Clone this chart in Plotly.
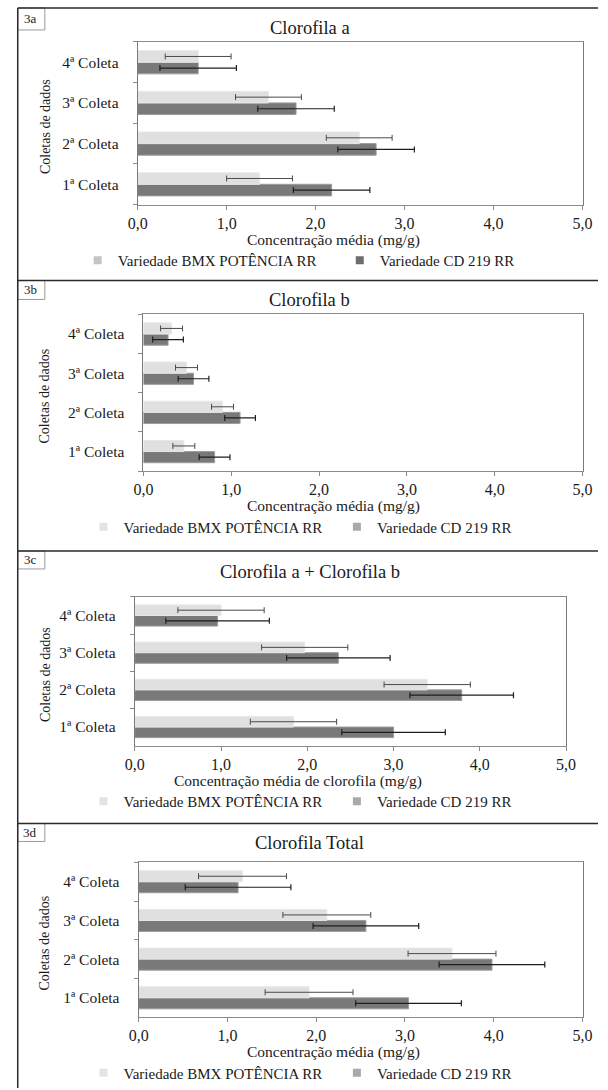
import plotly.graph_objects as go

# ---------------- data ----------------
categories = ["1ª Coleta", "2ª Coleta", "3ª Coleta", "4ª Coleta"]
series_names = ["Variedade BMX POTÊNCIA RR", "Variedade CD 219 RR"]
x_ticks = [0, 1, 2, 3, 4, 5]

# 3a - Clorofila a
bmx_a = [1.37, 2.49, 1.47, 0.68]
cd_a = [2.18, 2.68, 1.78, 0.68]
bmx_a_err = [0.37, 0.37, 0.37, 0.37]
cd_a_err = [0.43, 0.43, 0.43, 0.43]

# 3b - Clorofila b
bmx_b = [0.46, 0.90, 0.49, 0.32]
cd_b = [0.81, 1.10, 0.57, 0.28]
bmx_b_err = [0.125, 0.125, 0.125, 0.125]
cd_b_err = [0.175, 0.175, 0.175, 0.175]

# 3c - Clorofila a + Clorofila b
bmx_ab = [1.84, 3.39, 1.97, 1.00]
cd_ab = [3.00, 3.79, 2.36, 0.96]
bmx_ab_err = [0.50, 0.50, 0.50, 0.50]
cd_ab_err = [0.60, 0.60, 0.60, 0.60]

# 3d - Clorofila Total
bmx_t = [1.92, 3.53, 2.12, 1.17]
cd_t = [3.04, 3.98, 2.56, 1.12]
bmx_t_err = [0.495, 0.495, 0.495, 0.495]
cd_t_err = [0.595, 0.595, 0.595, 0.595]

panel_labels = ["3a", "3b", "3c", "3d"]
panel_titles = ["Clorofila a", "Clorofila b", "Clorofila a + Clorofila b", "Clorofila Total"]
x_titles = ["Concentração média (mg/g)", "Concentração média (mg/g)",
            "Concentração média de clorofila (mg/g)", "Concentração média (mg/g)"]
y_title = "Coletas de dados"

# ---------------- layout helpers ----------------
W, H = 608, 1090
FONT = "Liberation Serif, Times New Roman, serif"


def px(x):
    return x / W


def py(y):
    return 1 - y / H


# pixel boxes of the four plot areas (left, right, top, bottom)
plot_boxes = [(132, 592, 42, 205), (138, 592, 315, 472), (129, 575, 598, 747), (133, 592, 864, 1019)]
panel_tops = [8, 281, 552, 825]
label_box_h = [22, 19, 18, 18]
title_y = [28, 301, 573, 845]
xtitle_cx = [334, 334, 298, 334]
legend_swatch = [("#c4c4c4", "#6e6e6e"), ("#e4e4e4", "#a9a9a9"), ("#e4e4e4", "#a9a9a9"), ("#e4e4e4", "#a9a9a9")]
legend_x = [(70, 341), (76, 338), (76, 338), (76, 338)]

data_sets = [
    (bmx_a, bmx_a_err, cd_a, cd_a_err),
    (bmx_b, bmx_b_err, cd_b, cd_b_err),
    (bmx_ab, bmx_ab_err, cd_ab, cd_ab_err),
    (bmx_t, bmx_t_err, cd_t, cd_t_err),
]

LIGHT = "#e0e0e0"
DARK = "#797979"
TXT = "#1a1a1a"

fig = go.Figure()
layout = dict(
    width=W, height=H, margin=dict(l=0, r=0, t=0, b=0),
    paper_bgcolor="white", plot_bgcolor="white",
    barmode="group", bargap=0.43, bargroupgap=0,
    separators=",.",
    font=dict(family=FONT, size=15, color=TXT),
    showlegend=True,
)
annotations = []
shapes = []
leg_count = 0

for i, (bmx, bmx_err, cd, cd_err) in enumerate(data_sets):
    n = "" if i == 0 else str(i + 1)
    xa, ya = "x" + n, "y" + n
    l, r, t, b = plot_boxes[i]

    # dark series first -> drawn lower in each group
    fig.add_trace(go.Bar(
        y=categories, x=cd, orientation="h", name=series_names[1],
        marker=dict(color=DARK, line=dict(color="#9c9c9c", width=1)),
        error_x=dict(type="data", array=cd_err, color="#1e1e1e", thickness=1.2, width=3),
        xaxis=xa, yaxis=ya, showlegend=False,
    ))
    fig.add_trace(go.Bar(
        y=categories, x=bmx, orientation="h", name=series_names[0],
        marker=dict(color=LIGHT, line=dict(color="#e8e8e8", width=1)),
        error_x=dict(type="data", array=bmx_err, color="#4a4a4a", thickness=1, width=3),
        xaxis=xa, yaxis=ya, showlegend=False,
    ))
    # legend entries (one legend per entry for exact placement)
    for k, name in enumerate(series_names):
        leg_count += 1
        leg = "legend" if leg_count == 1 else "legend" + str(leg_count)
        fig.add_trace(go.Scatter(
            x=[None], y=[None], mode="markers", name=name,
            marker=dict(symbol="square", size=8, color=legend_swatch[i][k]),
            xaxis=xa, yaxis=ya, legend=leg, showlegend=True,
        ))
        layout[leg] = dict(
            orientation="h", x=px(legend_x[i][k]), y=py(b + 56), xanchor="left", yanchor="middle",
            font=dict(family=FONT, size=15, color=TXT),
            bgcolor="rgba(0,0,0,0)",
            itemclick=False, itemdoubleclick=False,
        )

    layout["xaxis" + n] = dict(
        domain=[px(l), px(r)], anchor=ya, range=[0, 5],
        tickmode="array", tickvals=x_ticks, tickformat=".1f",
        ticks="outside", ticklen=4, tickcolor="#8a8a8a",
        showline=True, linecolor="#8a8a8a", linewidth=1, mirror=True,
        showgrid=False, zeroline=False, fixedrange=True,
        tickfont=dict(family=FONT, size=16, color=TXT),
    )
    layout["yaxis" + n] = dict(
        domain=[py(b), py(t)], anchor=xa, type="category",
        categoryorder="array", categoryarray=categories,
        tickson="boundaries", ticks="outside", ticklen=4, tickcolor="#8a8a8a",
        showline=True, linecolor="#7a7a7a", linewidth=1, mirror=True,
        showgrid=False, zeroline=False, fixedrange=True,
        ticklabelstandoff=15,
        tickfont=dict(family=FONT, size=15.5, color=TXT),
    )

    # panel title
    annotations.append(dict(
        text=panel_titles[i], x=px(310), y=py(title_y[i]), xref="paper", yref="paper",
        xanchor="center", yanchor="middle", showarrow=False,
        font=dict(family=FONT, size=18.5, color=TXT),
    ))
    # x axis title
    annotations.append(dict(
        text=x_titles[i], x=px(xtitle_cx[i]), y=py(b + 35), xref="paper", yref="paper",
        xanchor="center", yanchor="middle", showarrow=False,
        font=dict(family=FONT, size=15.5, color=TXT),
    ))
    # y axis title
    annotations.append(dict(
        text=y_title, x=px(36), y=py((t + b) / 2 + 3), xref="paper", yref="paper",
        xanchor="center", yanchor="middle", showarrow=False, textangle=-90,
        font=dict(family=FONT, size=14, color=TXT),
    ))
    # panel label box
    top = panel_tops[i]
    shapes.append(dict(
        type="rect", xref="paper", yref="paper",
        x0=px(8), x1=px(36), y0=py(top), y1=py(top + label_box_h[i]),
        line=dict(color="#9a9a9a", width=1), fillcolor="white", layer="above",
    ))
    annotations.append(dict(
        text=panel_labels[i], x=px(21), y=py(top + label_box_h[i] / 2), xref="paper", yref="paper",
        xanchor="center", yanchor="middle", showarrow=False,
        font=dict(family=FONT, size=13, color=TXT),
    ))
    # panel separator / top line
    shapes.append(dict(
        type="line", xref="paper", yref="paper",
        x0=px(8), x1=1, y0=py(top), y1=py(top),
        line=dict(color="#2a2a2a", width=1.5),
    ))

# outer left border
shapes.append(dict(
    type="line", xref="paper", yref="paper",
    x0=px(8), x1=px(8), y0=py(8), y1=0,
    line=dict(color="#2a2a2a", width=1.5),
))

layout["annotations"] = annotations
layout["shapes"] = shapes
fig.update_layout(**layout)

fig.write_html("out.html")
